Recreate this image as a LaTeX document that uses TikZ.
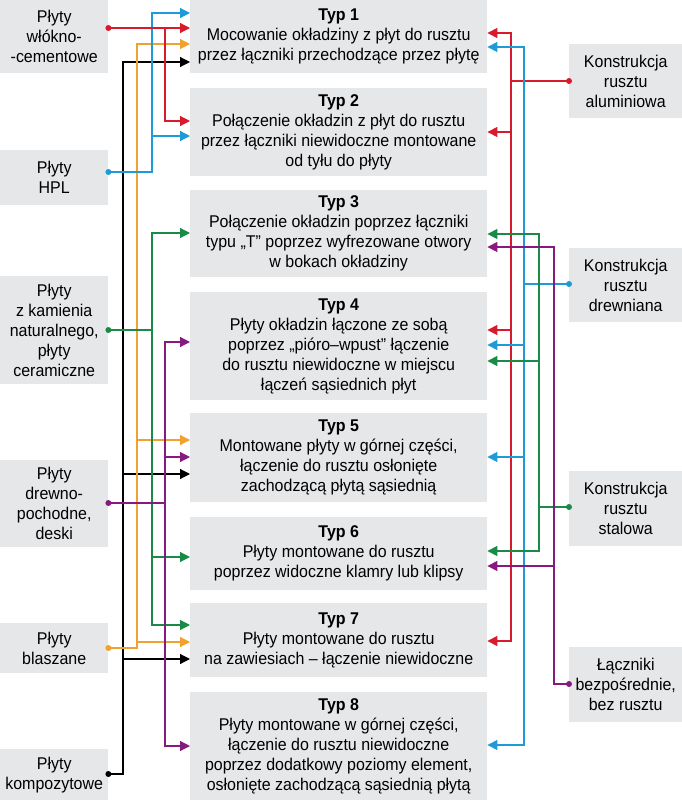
\documentclass[tikz,border=0pt]{standalone}
\usepackage{fontspec}
\setmainfont{Liberation Sans}[FakeStretch=0.94]
\usetikzlibrary{arrows.meta}
\definecolor{cred}{HTML}{D71A2C}
\definecolor{cblue}{HTML}{1E9AD6}
\definecolor{corange}{HTML}{F0A12E}
\definecolor{cgreen}{HTML}{1A8B47}
\definecolor{cpurple}{HTML}{861A80}
\definecolor{boxgray}{HTML}{E6E7E8}
\begin{document}
\begin{tikzpicture}[x=1pt,y=-1pt,
  box/.style={fill=boxgray, draw=none, anchor=north west, align=center, inner sep=0pt, font=\fontsize{17}{20}\selectfont},
  lbox/.style={box, minimum width=108pt},
  cbox/.style={box, minimum width=297pt},
  rbox/.style={box, minimum width=113pt},
  conn/.style={line width=1.2pt},
  arr/.style={conn,-{Triangle[length=10pt,width=10pt]}},
  dot/.style={radius=3pt}
]
\useasboundingbox (0,0) rectangle (682,800);
% left boxes
\node[lbox,minimum height=73pt] (wl) at (0,0) {Płyty\\włókno-\\-cementowe};
\node[lbox,minimum height=55pt] (hpl) at (0,150) {Płyty\\HPL};
\node[lbox,minimum height=108pt] (kam) at (0,276) {Płyty\\z kamienia\\naturalnego,\\płyty\\ceramiczne};
\node[lbox,minimum height=87pt] (drw) at (0,460) {Płyty\\drewno-\\pochodne,\\deski};
\node[lbox,minimum height=50pt] (bla) at (0,623) {Płyty\\blaszane};
\node[lbox,minimum height=51pt] (kom) at (0,749) {Płyty\\kompozytowe};
% center boxes
\node[cbox,minimum height=73pt] (t1) at (190,0) {\textbf{Typ 1}\\Mocowanie okładziny z płyt do rusztu\\przez łączniki przechodzące przez płytę};
\node[cbox,minimum height=88pt] (t2) at (190,88) {\textbf{Typ 2}\\Połączenie okładzin z płyt do rusztu\\przez łączniki niewidoczne montowane\\od tyłu do płyty};
\node[cbox,minimum height=87pt] (t3) at (190,190) {\textbf{Typ 3}\\Połączenie okładzin poprzez łączniki\\typu „T'' poprzez wyfrezowane otwory\\w bokach okładziny};
\node[cbox,minimum height=108pt] (t4) at (190,292) {\textbf{Typ 4}\\Płyty okładzin łączone ze sobą\\poprzez „pióro–wpust'' łączenie\\do rusztu niewidoczne w miejscu\\łączeń sąsiednich płyt};
\node[cbox,minimum height=89pt] (t5) at (190,413) {\textbf{Typ 5}\\Montowane płyty w górnej części,\\łączenie do rusztu osłonięte\\zachodzącą płytą sąsiednią};
\node[cbox,minimum height=73pt] (t6) at (190,517) {\textbf{Typ 6}\\Płyty montowane do rusztu\\poprzez widoczne klamry lub klipsy};
\node[cbox,minimum height=74pt] (t7) at (190,603) {\textbf{Typ 7}\\Płyty montowane do rusztu\\na zawiesiach – łączenie niewidoczne};
\node[cbox,minimum height=108pt] (t8) at (190,692) {\textbf{Typ 8}\\Płyty montowane w górnej części,\\łączenie do rusztu niewidoczne\\poprzez dodatkowy poziomy element,\\osłonięte zachodzącą sąsiednią płytą};
% right boxes
\node[rbox,minimum height=74pt] (alu) at (569,44) {Konstrukcja\\rusztu\\aluminiowa};
\node[rbox,minimum height=74pt] (drn) at (569,248) {Konstrukcja\\rusztu\\drewniana};
\node[rbox,minimum height=75pt] (stl) at (569,471) {Konstrukcja\\rusztu\\stalowa};
\node[rbox,minimum height=75pt] (lac) at (569,647) {Łączniki\\bezpośrednie,\\bez rusztu};
% ---- left connectors
% black (kompozytowe)
\draw[arr,black] (kom.east|-0,774) -| (123,62) -- (t1.west|-0,62);
\draw[arr,black] (123,474) -- (t5.west|-0,474);
\draw[arr,black] (123,659) -- (t7.west|-0,659);
% orange (blaszane)
\draw[arr,corange] (bla.east|-0,648) -| (137,44) -- (t1.west|-0,44);
\draw[arr,corange] (137,440) -- (t5.west|-0,440);
\draw[arr,corange] (137,642) -- (t7.west|-0,642);
% blue (HPL)
\draw[arr,cblue] (hpl.east|-0,172) -| (152,13) -- (t1.west|-0,13);
\draw[arr,cblue] (152,136) -- (t2.west|-0,136);
% green (kamien)
\draw[arr,cgreen] (kam.east|-0,330) -| (152,233) -- (t3.west|-0,233);
\draw[arr,cgreen] (152,330) |- (t7.west|-0,625);
\draw[arr,cgreen] (152,557) -- (t6.west|-0,557);
% red (wlokno)
\draw[arr,cred] (wl.east|-0,28) -- (t1.west|-0,28);
\draw[arr,cred] (165,28) |- (t2.west|-0,121);
% purple (drewno)
\draw[arr,cpurple] (drw.east|-0,503) -| (165,342) -- (t4.west|-0,342);
\draw[arr,cpurple] (165,503) |- (t8.west|-0,746);
\draw[arr,cpurple] (165,457) -- (t5.west|-0,457);
% ---- right connectors
% red (aluminiowa)
\draw[arr,cred] (alu.west|-0,81) -| (511,33) -- (t1.east|-0,33);
\draw[arr,cred] (511,81) |- (t7.east|-0,641);
\draw[arr,cred] (511,132) -- (t2.east|-0,132);
\draw[arr,cred] (511,330) -- (t4.east|-0,330);
% blue (drewniana)
\draw[arr,cblue] (drn.west|-0,284) -| (524,47) -- (t1.east|-0,47);
\draw[arr,cblue] (524,284) |- (t8.east|-0,745);
\draw[arr,cblue] (524,345) -- (t4.east|-0,345);
\draw[arr,cblue] (524,457) -- (t5.east|-0,457);
% green (stalowa)
\draw[arr,cgreen] (stl.west|-0,507) -| (539,234) -- (t3.east|-0,234);
\draw[arr,cgreen] (539,507) |- (t6.east|-0,551);
\draw[arr,cgreen] (539,361) -- (t4.east|-0,361);
% purple (laczniki)
\draw[arr,cpurple] (lac.west|-0,684) -| (554,247) -- (t3.east|-0,247);
\draw[arr,cpurple] (554,566) -- (t6.east|-0,566);
% dots
\fill[cred] (wl.east|-0,28) circle[dot];
\fill[cblue] (hpl.east|-0,172) circle[dot];
\fill[cgreen] (kam.east|-0,330) circle[dot];
\fill[cpurple] (drw.east|-0,503) circle[dot];
\fill[corange] (bla.east|-0,648) circle[dot];
\fill[black] (kom.east|-0,774) circle[dot];
\fill[cred] (alu.west|-0,81) circle[dot];
\fill[cblue] (drn.west|-0,284) circle[dot];
\fill[cgreen] (stl.west|-0,507) circle[dot];
\fill[cpurple] (lac.west|-0,684) circle[dot];
\end{tikzpicture}
\end{document}
